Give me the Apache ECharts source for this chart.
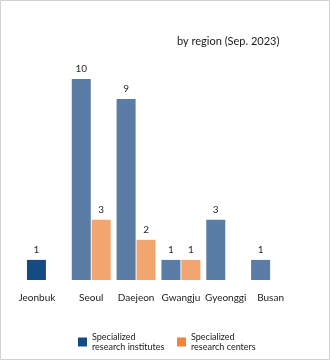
<!DOCTYPE html>
<html>
<head>
<meta charset="utf-8">
<script src="https://cdn.jsdelivr.net/npm/echarts@6/dist/echarts.min.js"></script>
<style>
  html, body { margin: 0; padding: 0; background: #fff; }
  #chart { width: 330px; height: 360px; }
</style>
</head>
<body>
<div id="chart"></div>
<script>
// Regions along the x axis
const regions = ['Jeonbuk', 'Seoul', 'Daejeon', 'Gwangju', 'Gyeonggi', 'Busan'];
// Number of specialized research institutes per region
const institutes = [1, 10, 9, 1, 3, 1];
// Number of specialized research centers per region (null = none)
const centers = [null, 3, 2, 1, null, null];

const seriesNames = ['Specialized research institutes', 'Specialized research centers'];
const titleText = 'by region (Sep. 2023)';

const FONT = 'Lato, "Open Sans", sans-serif';
const NAVY = '#164a82';
const BLUE = '#5a7ca5';
const ORANGE_LEGEND = '#f0843a';
const ORANGE = '#f2a56f';

const chart = echarts.init(document.getElementById('chart'), null, { renderer: 'canvas' });

const labelCfg = {
  show: true,
  position: 'top',
  distance: 5,
  color: '#2a2a2a',
  fontSize: 10,
  fontFamily: FONT
};

chart.setOption({
  animation: false,
  backgroundColor: '#fff',
  title: {
    text: titleText,
    left: 172,
    top: 31,
    textStyle: { fontSize: 11, fontWeight: 'normal', color: '#1a1a1a', fontFamily: FONT }
  },
  grid: { left: 24, right: 37, top: 79, bottom: 80, containLabel: false },
  legend: [
    {
      data: [seriesNames[0]],
      left: 73, top: 327,
      icon: 'rect', itemWidth: 9, itemHeight: 9, itemGap: 4,
      formatter: () => 'Specialized\nresearch institutes',
      textStyle: { fontSize: 9, lineHeight: 10, color: '#1a1a1a', fontFamily: FONT }
    },
    {
      data: [seriesNames[1]],
      left: 172, top: 327,
      icon: 'rect', itemWidth: 9, itemHeight: 9, itemGap: 4,
      formatter: () => 'Specialized\nresearch centers',
      textStyle: { fontSize: 9, lineHeight: 10, color: '#1a1a1a', fontFamily: FONT }
    }
  ],
  xAxis: {
    type: 'category',
    data: regions.map((r, i) => i === 0
      ? { value: r, textStyle: { padding: [0, 19, 0, 0] } }
      : r),
    axisLine: { show: false },
    axisTick: { show: false },
    axisLabel: { interval: 0, hideOverlap: false, color: '#1a1a1a', fontSize: 10, margin: 13, fontFamily: FONT }
  },
  yAxis: {
    type: 'value',
    min: 0,
    max: 10,
    show: false,
    splitLine: { show: false }
  },
  series: [
    {
      name: seriesNames[0],
      type: 'bar',
      barWidth: 19,
      barGap: '5%',
      itemStyle: { color: NAVY },
      label: labelCfg,
      data: institutes.map((v, i) => i === 0 ? v : { value: v, itemStyle: { color: BLUE } })
    },
    {
      name: seriesNames[1],
      type: 'bar',
      barWidth: 19,
      itemStyle: { color: ORANGE_LEGEND },
      label: labelCfg,
      data: centers.map(v => v == null ? '-' : { value: v, itemStyle: { color: ORANGE } })
    }
  ],
  graphic: [
    {
      type: 'rect',
      shape: { x: 0.5, y: 0.5, width: 329, height: 359 },
      style: { fill: 'none', stroke: '#d2d2d2', lineWidth: 1 },
      silent: true
    }
  ]
});
</script>
</body>
</html>
